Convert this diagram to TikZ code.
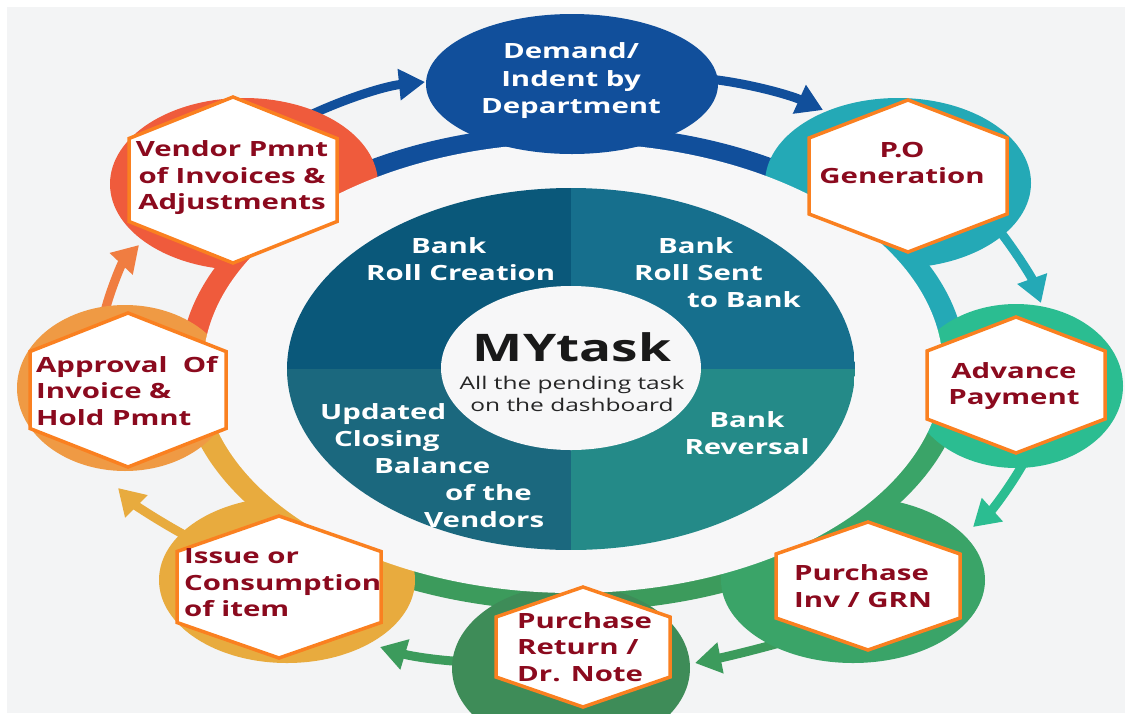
\documentclass[tikz,border=0pt]{standalone}
\usepackage{fontspec}
\setmainfont{Open Sans}[FakeStretch=1.4]
\usetikzlibrary{shapes.geometric, arrows.meta, calc}

\definecolor{bgcol}{RGB}{243,244,245}
\definecolor{disccol}{RGB}{247,247,248}
\definecolor{demandblue}{RGB}{17,79,155}
\definecolor{poteal}{RGB}{36,169,182}
\definecolor{advgreen}{RGB}{43,189,145}
\definecolor{invgreen}{RGB}{58,164,104}
\definecolor{retgreen}{RGB}{62,140,88}
\definecolor{ringgreen}{RGB}{60,155,92}
\definecolor{issueyel}{RGB}{232,171,62}
\definecolor{apprange}{RGB}{239,154,68}
\definecolor{apparrow}{RGB}{240,125,65}
\definecolor{vendred}{RGB}{239,91,60}
\definecolor{hexorange}{RGB}{250,128,32}
\definecolor{labelred}{RGB}{139,10,30}
\definecolor{quadtl}{RGB}{10,88,122}
\definecolor{quadtr}{RGB}{22,111,141}
\definecolor{quadbl}{RGB}{27,104,126}
\definecolor{quadbr}{RGB}{36,138,136}

\tikzstyle{stage} = [ellipse, inner sep=0pt]
\tikzstyle{hexa} = [fill=white, draw=hexorange, line width=3.5pt, line join=miter]
\tikzstyle{arrow} = [line width=9pt, -{Triangle[length=26pt, width=30pt]}]
\tikzstyle{tasktext} = [inner sep=0pt, text=labelred, font=\bfseries\fontsize{21}{26.5}\selectfont]
\tikzstyle{quadtext} = [inner sep=0pt, text=white, font=\bfseries\fontsize{21}{27}\selectfont]

\newcommand{\hexat}[4]{\filldraw[hexa] (#1,#2-#4) -- (#1+#3,#2-#4/2) -- (#1+#3,#2+#4/2) -- (#1,#2+#4) -- (#1-#3,#2+#4/2) -- (#1-#3,#2-#4/2) -- cycle;}

\begin{document}
\begin{tikzpicture}[x=1pt, y=-1pt]

\useasboundingbox (0,0) rectangle (1125,713);
\clip (0,0) rectangle (1125,713);
\fill[white] (0,0) rectangle (1125,713);
\fill[bgcol] (7,7) rectangle (1125,713);

\coordinate (ctr) at (573,368);
\coordinate (c-demand) at (572,84);
\coordinate (c-po) at (898,183);
\coordinate (c-adv) at (1016,386);
\coordinate (c-inv) at (853,580);
\coordinate (c-ret) at (571,668);
\coordinate (c-issue) at (287,580);
\coordinate (c-appr) at (125,388);
\coordinate (c-vend) at (244,184);

% outer ring
\begin{scope}
\clip (ctr) ellipse [x radius=393, y radius=243];
\fill[demandblue] (ctr) -- ($(ctr)!3!(c-vend)$) -- ($(ctr)!3!(c-po)$) -- cycle;
\fill[poteal] (ctr) -- ($(ctr)!3!(c-po)$) -- ($(ctr)!3!(c-adv)$) -- cycle;
\fill[invgreen] (ctr) -- ($(ctr)!3!(c-adv)$) -- ($(ctr)!3!(c-inv)$) -- cycle;
\fill[ringgreen] (ctr) -- ($(ctr)!3!(c-inv)$) -- ($(ctr)!3!(c-ret)$) -- cycle;
\fill[ringgreen] (ctr) -- ($(ctr)!3!(c-ret)$) -- ($(ctr)!3!(c-issue)$) -- cycle;
\fill[issueyel] (ctr) -- ($(ctr)!3!(c-issue)$) -- ($(ctr)!3!(c-appr)$) -- cycle;
\fill[vendred] (ctr) -- ($(ctr)!3!(c-appr)$) -- ($(ctr)!3!(c-vend)$) -- cycle;
\end{scope}

\coordinate (a1s) at (300,120);  \coordinate (a1e) at (425,82);
\coordinate (a2s) at (700,78);   \coordinate (a2e) at (823,110);
\coordinate (a3s) at (995,225);  \coordinate (a3e) at (1041,303);
\coordinate (a4s) at (1028,455); \coordinate (a4e) at (973,527);
\coordinate (a5s) at (790,640);  \coordinate (a5e) at (695,663);
\coordinate (a6s) at (470,662);  \coordinate (a6e) at (380,647);
\coordinate (a7s) at (190,538);  \coordinate (a7e) at (118,488);
\coordinate (a8s) at (104,315);  \coordinate (a8e) at (139,245);

\draw [arrow, demandblue] (a1s) .. controls (340,100) and (385,86) .. (a1e);
\draw [arrow, demandblue] (a2s) .. controls (745,82) and (790,95) .. (a2e);
\draw [arrow, poteal] (a3s) .. controls (1015,250) and (1032,278) .. (a3e);
\draw [arrow, advgreen] (a4s) .. controls (1012,485) and (992,510) .. (a4e);
\draw [arrow, ringgreen] (a5s) .. controls (755,650) and (725,657) .. (a5e);
\draw [arrow, ringgreen] (a6s) .. controls (440,661) and (410,656) .. (a6e);
\draw [arrow, issueyel] (a7s) .. controls (160,522) and (135,505) .. (a7e);
\draw [arrow, apparrow] (a8s) .. controls (110,290) and (122,263) .. (a8e);

\node (po) [stage, fill=poteal, minimum width=266pt, minimum height=170pt] at (c-po) {};
\node (adv) [stage, fill=advgreen, minimum width=214pt, minimum height=164pt] at (c-adv) {};
\node (inv) [stage, fill=invgreen, minimum width=264pt, minimum height=166pt] at (c-inv) {};
\node (ret) [stage, fill=retgreen, minimum width=238pt, minimum height=166pt] at (c-ret) {};
\node (issue) [stage, fill=issueyel, minimum width=256pt, minimum height=166pt] at (c-issue) {};
\node (appr) [stage, fill=apprange, minimum width=216pt, minimum height=166pt] at (c-appr) {};
\node (vend) [stage, fill=vendred, minimum width=268pt, minimum height=172pt] at (c-vend) {};

\fill[disccol] (ctr) ellipse [x radius=370, y radius=225];

\node (demand) [stage, fill=demandblue, minimum width=292pt, minimum height=140pt] at (c-demand) {};

% centre disc
\begin{scope}
\clip (571,369) ellipse [x radius=284, y radius=181];
\fill[quadtl] (287,188) rectangle (571,369);
\fill[quadtr] (571,188) rectangle (855,369);
\fill[quadbl] (287,369) rectangle (571,550);
\fill[quadbr] (571,369) rectangle (855,550);
\end{scope}
\node (hub) [stage, fill=disccol, minimum width=260pt, minimum height=164pt] at (571,368) {};

\hexat{233}{180}{104}{83}
\hexat{908}{176}{99}{76}
\hexat{1016}{385}{89}{68}
\hexat{868}{586}{92}{64}
\hexat{583}{647}{87}{60}
\hexat{279}{587}{102}{71}
\hexat{128}{390}{98}{77}

\node (demand-t) [tasktext, text=white, align=center, font=\bfseries\fontsize{21}{27.5}\selectfont] at (571,81) {Demand/\\Indent by\\Department};
\node (vend-t) [tasktext, align=center] at (232,178) {Vendor Pmnt\\of Invoices \&\\Adjustments};
\node (po-t) [tasktext, align=center] at (902,163) {P.O\\Generation};
\node (adv-t) [tasktext, align=center] at (1014,386) {Advance\\Payment};
\node (inv-t) [tasktext, align=left, anchor=west] at (794,586) {Purchase\\Inv / GRN};
\node (ret-t) [tasktext, align=left, anchor=west] at (517,647) {Purchase\\Return /\\Dr. Note};
\node (issue-t) [tasktext, align=left, anchor=west] at (184,583) {Issue or\\Consumption\\of item};
\node (appr-t) [tasktext, align=left, anchor=west] at (36,391) {Approval\ \ Of\\Invoice \&\\Hold Pmnt};

\node (q1) [quadtext, align=left, anchor=west] at (366,259) {\hspace*{45pt}Bank\\Roll Creation};
\node (q2) [quadtext, align=left, anchor=west] at (634,273) {\hspace*{24pt}Bank\\Roll Sent\\\hspace*{53pt}to Bank};
\node (q3) [quadtext, align=left, anchor=west] at (320,466) {Updated\\\hspace*{14pt}Closing\\\hspace*{54pt}Balance\\\hspace*{125pt}of the\\\hspace*{104pt}Vendors};
\node (q4) [quadtext, align=center] at (747,433) {Bank\\Reversal};

\node (hub-t) [inner sep=0pt, font=\bfseries\fontsize{38}{40}\selectfont, text=black!90] at (572,347) {MYtask};
\node (hub-s) [inner sep=0pt, font=\fontsize{17.5}{22}\selectfont, text=black!85, align=center] at (572,394) {All the pending task\\on the dashboard};

\end{tikzpicture}
\end{document}
